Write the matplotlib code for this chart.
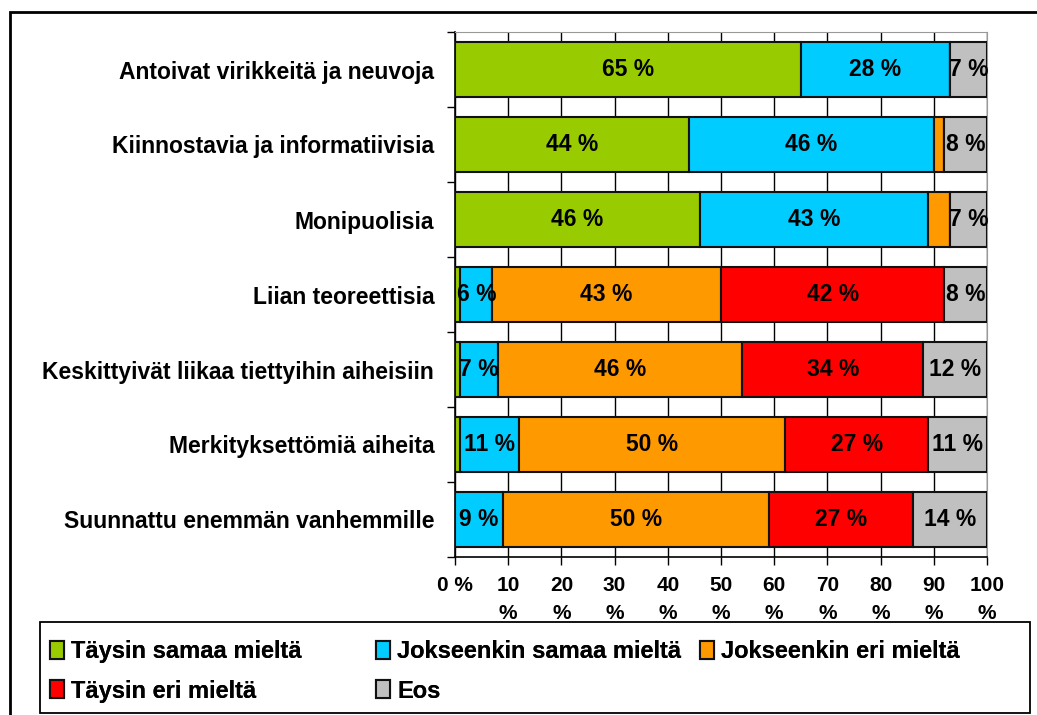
import matplotlib.pyplot as plt
import numpy as np
from matplotlib.patches import Rectangle

plt.rcParams['font.family'] = ['Liberation Sans', 'DejaVu Sans']
plt.rcParams['font.weight'] = 'bold'

categories = ['Antoivat virikkeitä ja neuvoja',
              'Kiinnostavia ja informatiivisia',
              'Monipuolisia',
              'Liian teoreettisia',
              'Keskittyivät liikaa tiettyihin aiheisiin',
              'Merkityksettömiä aiheita',
              'Suunnattu enemmän vanhemmille']
series_names = ['Täysin samaa mieltä', 'Jokseenkin samaa mieltä',
                'Jokseenkin eri mieltä', 'Täysin eri mieltä', 'Eos']
taysin_samaa = [65, 44, 46, 1, 1, 1, 0]
jokseenkin_samaa = [28, 46, 43, 6, 7, 11, 9]
jokseenkin_eri = [0, 2, 4, 43, 46, 50, 50]
taysin_eri = [0, 0, 0, 42, 34, 27, 27]
eos = [7, 8, 7, 8, 12, 11, 14]
xticks = [0, 10, 20, 30, 40, 50, 60, 70, 80, 90, 100]
xticklabels = ['0 %'] + ['%d\n%%' % v for v in xticks[1:]]

colors = ['#99CC00', '#00CCFF', '#FF9900', '#FF0000', '#C0C0C0']
data = [taysin_samaa, jokseenkin_samaa, jokseenkin_eri, taysin_eri, eos]

fig = plt.figure(figsize=(10.37, 7.15), dpi=100)
ax = fig.add_axes([455 / 1037, 1 - 557 / 715, 532 / 1037, 525 / 715])

y = np.arange(len(categories))
left = np.zeros(len(categories))
handles = []
for name, vals, c in zip(series_names, data, colors):
    vals = np.array(vals, dtype=float)
    bars = ax.barh(y, vals, left=left, height=0.74, color=c,
                   edgecolor='#111111', linewidth=1.5, label=name, zorder=3)
    handles.append(bars)
    for yi, l, v in zip(y, left, vals):
        if v >= 5:
            ax.text(l + v / 2, yi, '%d %%' % v, ha='center', va='center',
                    fontsize=16.5, fontweight='bold', zorder=4)
    left += vals

ax.set_ylim(len(categories) - 0.5, -0.5)
ax.set_xlim(0, 100)
ax.set_yticks(y)
ax.set_yticklabels(categories, fontsize=16.5, fontweight='bold')
ax.set_yticks(np.arange(-0.5, len(categories), 1), minor=True)
ax.tick_params(axis='y', which='major', length=0, pad=15)
ax.tick_params(axis='y', which='minor', length=6, direction='out', width=1)
ax.set_xticks(xticks)
ax.set_xticklabels(xticklabels, fontsize=15, fontweight='bold', linespacing=1.6)
ax.tick_params(axis='x', length=6, width=1, pad=8)
ax.xaxis.grid(True, color='black', linewidth=1, zorder=0)
for s in ['top', 'right']:
    ax.spines[s].set_color('#999999')
for s in ['left', 'bottom']:
    ax.spines[s].set_color('black')
    ax.spines[s].set_linewidth(1.2)

# legend: three columns placed like the original
columns = [[0, 3], [1, 4], [2]]
col_x = [50, 376, 700]
for idx, cx in zip(columns, col_x):
    lg = fig.legend([handles[i] for i in idx], [series_names[i] for i in idx],
                    loc='upper left', bbox_to_anchor=(cx / 1037, 1 - 640 / 715),
                    fontsize=17, frameon=False, handlelength=0.6,
                    handleheight=0.8, handletextpad=0.3, borderpad=0,
                    borderaxespad=0, labelspacing=0.7)
    fig.add_artist(lg)

# legend frame
fig.patches.append(Rectangle((40 / 1037, 2 / 715), 990 / 1037, 91 / 715,
                             transform=fig.transFigure, fill=False,
                             edgecolor='black', linewidth=1.3))
# outer chart border
fig.patches.append(Rectangle((10 / 1037, -0.1), 1.2, 1 - 12 / 715 + 0.1,
                             transform=fig.transFigure, fill=False,
                             edgecolor='black', linewidth=2))

fig.savefig('out.png', dpi=100)
